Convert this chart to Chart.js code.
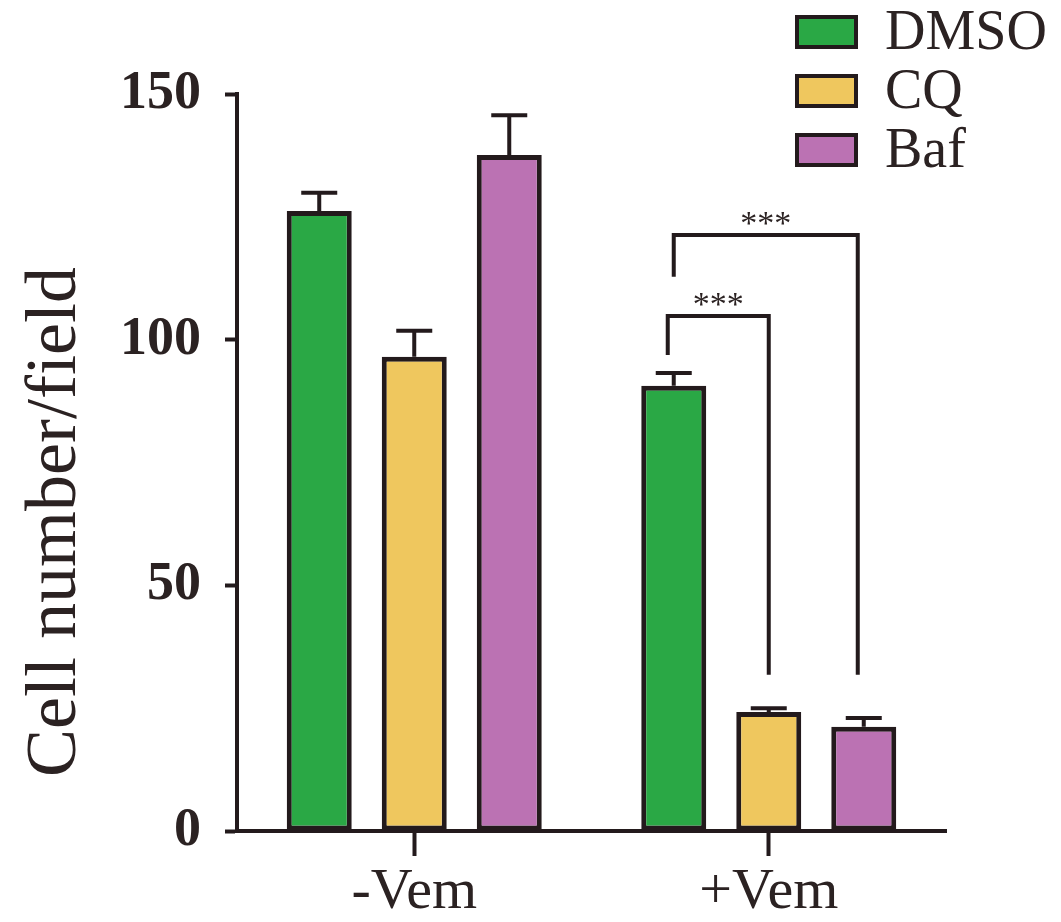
<!DOCTYPE html>
<html>
<head>
<meta charset="utf-8">
<title>Cell number/field</title>
<script src="https://cdn.jsdelivr.net/npm/chart.js@4.4.1/dist/chart.umd.min.js"></script>
<style>
  html, body { margin: 0; padding: 0; background: #fff; }
  #wrap { width: 1061px; height: 922px; position: relative; }
</style>
</head>
<body>
<div id="wrap"><canvas id="cellChart" width="1061" height="922"></canvas></div>
<script>
// Chart data
const groups = ['-Vem', '+Vem'];
const treatments = ['DMSO', 'CQ', 'Baf'];
const dmsoValues = [126.2, 90.6];
const cqValues = [96.5, 24.2];
const bafValues = [137.6, 21.2];
const dmsoErrors = [3.7, 2.6];
const cqErrors = [5.3, 0.8];
const bafErrors = [8.1, 1.8];
const yTickValues = [0, 50, 100, 150];
const yTitle = 'Cell number/field';

// significance brackets (+Vem group): DMSO vs CQ, DMSO vs Baf
const bracketTargets = [1, 2];
const bracketLevels = [104.8, 121.3];
const bracketLeftEnds = [96.9, 112.8];
const bracketRightEnds = [31.8, 31.8];
const bracketLabels = ['***', '***'];

const ink = '#231a1c';
const textColor = '#2b2222';
const serif = "'Liberation Serif', 'DejaVu Serif', serif";
const barColors = ['#2aa845', '#efc75e', '#bb72b3'];

const allValues = [dmsoValues, cqValues, bafValues];
const allErrors = [dmsoErrors, cqErrors, bafErrors];

// error bars + brackets drawn on top of the bars
const overlayPlugin = {
    id: 'overlay',
    afterDatasetsDraw(chart) {
        const ctx = chart.ctx;
        const y = chart.scales.y;
        ctx.save();
        ctx.strokeStyle = ink;
        ctx.lineWidth = 4;
        ctx.lineCap = 'butt';

        // upward SEM bars
        allValues.forEach((vals, i) => {
            const meta = chart.getDatasetMeta(i);
            vals.forEach((v, j) => {
                const bar = meta.data[j];
                const top = y.getPixelForValue(v + allErrors[i][j]);
                ctx.beginPath();
                ctx.moveTo(bar.x, bar.y);
                ctx.lineTo(bar.x, top);
                ctx.moveTo(bar.x - 18, top);
                ctx.lineTo(bar.x + 18, top);
                ctx.stroke();
            });
        });

        // significance brackets
        const ref = chart.getDatasetMeta(0).data[1];
        bracketTargets.forEach((t, k) => {
            const other = chart.getDatasetMeta(t).data[1];
            const lvl = y.getPixelForValue(bracketLevels[k]);
            const x1 = ref.x - (k === 0 ? 6 : 0);
            const x2 = other.x - (k === 1 ? 6 : 0);
            ctx.beginPath();
            ctx.moveTo(x1, y.getPixelForValue(bracketLeftEnds[k]));
            ctx.lineTo(x1, lvl);
            ctx.lineTo(x2, lvl);
            ctx.lineTo(x2, y.getPixelForValue(bracketRightEnds[k]));
            ctx.stroke();

            ctx.fillStyle = textColor;
            ctx.font = '34px ' + serif;
            ctx.textAlign = 'center';
            ctx.textBaseline = 'alphabetic';
            ctx.fillText(bracketLabels[k], (x1 + x2) / 2, lvl - 1);
        });
        ctx.restore();
    },
    afterDraw(chart) {
        const ctx = chart.ctx;
        ctx.save();
        // legend, top right
        treatments.forEach((name, i) => {
            const cy = 32 + i * 59;
            ctx.fillStyle = barColors[i];
            ctx.fillRect(797, cy - 15, 59, 30);
            ctx.strokeStyle = ink;
            ctx.lineWidth = 4;
            ctx.strokeRect(797, cy - 15, 59, 30);
            ctx.fillStyle = textColor;
            ctx.font = '56px ' + serif;
            ctx.textAlign = 'left';
            ctx.textBaseline = 'middle';
            ctx.fillText(name, 885, cy + 2);
        });

        // y axis title, sits a bit below the axis middle
        ctx.translate(75, 522);
        ctx.rotate(-Math.PI / 2);
        ctx.fillStyle = textColor;
        ctx.font = '72px ' + serif;
        ctx.textAlign = 'center';
        ctx.textBaseline = 'alphabetic';
        ctx.fillText(yTitle, 0, 0);
        ctx.restore();
    }
};

new Chart(document.getElementById('cellChart'), {
    type: 'bar',
    data: {
        labels: groups,
        datasets: treatments.map((name, i) => ({
            label: name,
            data: allValues[i],
            backgroundColor: barColors[i],
            borderColor: ink,
            borderWidth: 5,
            borderSkipped: false,
            categoryPercentage: 0.804,
            barPercentage: 0.684
        }))
    },
    options: {
        responsive: false,
        animation: false,
        layout: { padding: { top: 94, right: 115, left: 0, bottom: 0 } },
        plugins: {
            legend: { display: false },
            tooltip: { enabled: false }
        },
        scales: {
            x: {
                grid: {
                    offset: false,
                    drawOnChartArea: false,
                    tickLength: 25,
                    tickWidth: 4,
                    tickColor: ink
                },
                border: { color: ink, width: 4 },
                ticks: {
                    color: textColor,
                    padding: 2,
                    font: { family: serif, size: 58 }
                },
                afterFit: s => { s.height = 91; }
            },
            y: {
                min: 0,
                max: 150,
                afterBuildTicks: s => { s.ticks = yTickValues.map(v => ({ value: v })); },
                grid: {
                    drawOnChartArea: false,
                    tickLength: 12,
                    tickWidth: 4,
                    tickColor: ink
                },
                border: { color: ink, width: 4 },
                ticks: {
                    color: textColor,
                    padding: 24,
                    font: { family: serif, size: 54, weight: 'bold' }
                },
                afterFit: s => { s.width = 237; }
            }
        }
    },
    plugins: [overlayPlugin]
});
</script>
</body>
</html>
